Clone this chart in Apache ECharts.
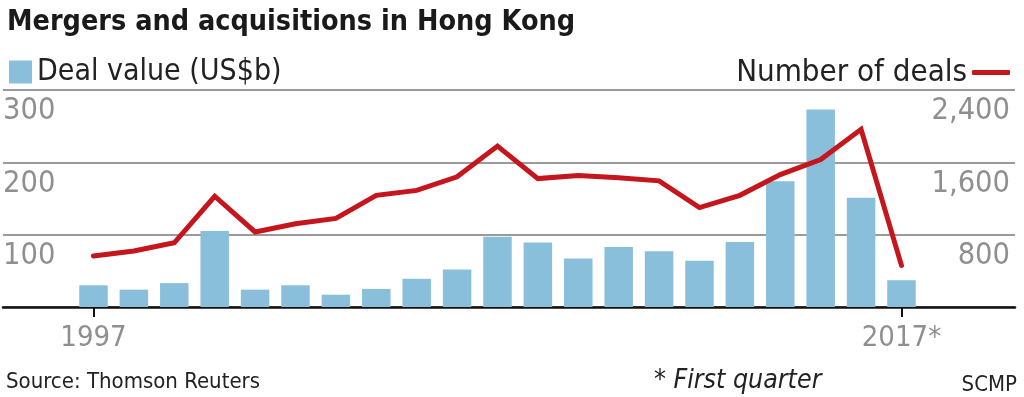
<!DOCTYPE html>
<html>
<head>
<meta charset="utf-8">
<script src="https://cdn.jsdelivr.net/npm/echarts@6/dist/echarts.min.js"></script>
<style>
  html, body { margin: 0; padding: 0; background: #fff; }
  #chart { width: 1024px; height: 397px; }
</style>
</head>
<body>
<div id="chart"></div>
<script>
// 数据
var years = [1997, 1998, 1999, 2000, 2001, 2002, 2003, 2004, 2005, 2006, 2007,
             2008, 2009, 2010, 2011, 2012, 2013, 2014, 2015, 2016, 2017];
var dealValue = [30, 24, 33, 105, 24, 30, 17, 25, 39, 52, 97,
                 89, 67, 83, 77, 64, 90, 174, 273, 151, 37];
var dealCount = [565, 620, 710, 1225, 830, 920, 980, 1235, 1290, 1440, 1780,
                 1420, 1455, 1430, 1395, 1100, 1235, 1465, 1630, 1965, 460];
var yearLabels = [1997, 2017];

var FONT = '"DejaVu Sans Condensed", "DejaVu Sans", sans-serif';
var GREY = '#8f8f8f';

var option = {
    animation: false,
    backgroundColor: '#fff',
    title: [
        {
            text: 'Mergers and acquisitions in Hong Kong',
            left: 2, top: 3,
            textStyle: { fontFamily: FONT, fontWeight: 'bold', fontSize: 28.5, color: '#1a1a1a' }
        },
        {
            text: 'Source: Thomson Reuters',
            left: 1, top: 366,
            textStyle: { fontFamily: FONT, fontWeight: 'normal', fontSize: 22, color: '#222' }
        },
        {
            text: '* First quarter',
            left: 649, top: 363,
            textStyle: { fontFamily: FONT, fontWeight: 'normal', fontStyle: 'italic', fontSize: 26.5, color: '#222' }
        },
        {
            text: 'SCMP',
            right: 2, top: 369,
            textStyle: { fontFamily: FONT, fontWeight: 'normal', fontSize: 22, color: '#222' }
        }
    ],
    legend: [
        {
            data: [{ name: 'Deal value (US$b)', icon: 'rect' }],
            left: 4, top: 52,
            itemWidth: 23, itemHeight: 23, itemGap: 10,
            textStyle: { fontFamily: FONT, fontSize: 30, color: '#222' }
        },
        {
            data: [{ name: 'Number of deals', icon: 'roundRect' }],
            right: 9, top: 52,
            align: 'right',
            itemWidth: 38, itemHeight: 5,
            textStyle: { fontFamily: FONT, fontSize: 31, color: '#222' }
        }
    ],
    grid: {
        left: 0,
        right: 9,
        top: 90,
        bottom: 90,
        containLabel: false
    },
    xAxis: {
        type: 'value',
        min: 1994.76,
        max: 2019.81,
        splitLine: { show: false },
        axisLine: { show: true, lineStyle: { color: '#111', width: 2.5 } },
        axisTick: {
            show: true, customValues: yearLabels, length: 10,
            lineStyle: { color: '#111', width: 2 }
        },
        axisLabel: {
            customValues: yearLabels,
            margin: 17,
            fontFamily: FONT, fontSize: 29, color: GREY,
            formatter: function (v) { return v === 2017 ? '2017*' : String(v); }
        }
    },
    yAxis: [
        {
            type: 'value',
            min: 0, max: 300, interval: 100,
            position: 'left',
            axisLine: { show: false },
            axisTick: { show: false },
            splitLine: { show: true, lineStyle: { color: '#9a9a9a', width: 2 } },
            axisLabel: {
                inside: true, margin: 0, showMinLabel: false,
                align: 'left', verticalAlign: 'top', padding: [6, 0, 0, 0],
                fontFamily: FONT, fontSize: 30.5, color: GREY
            }
        },
        {
            type: 'value',
            min: 0, max: 2400, interval: 800,
            position: 'right',
            axisLine: { show: false },
            axisTick: { show: false },
            splitLine: { show: false },
            axisLabel: {
                inside: true, margin: 5, showMinLabel: false,
                align: 'right', verticalAlign: 'top', padding: [6, 0, 0, 0],
                fontFamily: FONT, fontSize: 30.5, color: GREY,
                formatter: function (v) { return v.toLocaleString('en-US'); }
            }
        }
    ],
    series: [
        {
            name: 'Deal value (US$b)',
            type: 'bar',
            barWidth: 28.5,
            itemStyle: { color: '#89bfdb' },
            data: years.map(function (y, i) { return [y, dealValue[i]]; })
        },
        {
            name: 'Number of deals',
            type: 'line',
            yAxisIndex: 1,
            showSymbol: false,
            symbol: 'none',
            z: 5,
            lineStyle: { color: '#c4161c', width: 5, cap: 'round', join: 'miter' },
            itemStyle: { color: '#c4161c' },
            data: years.map(function (y, i) { return [y, dealCount[i]]; })
        }
    ]
};

var chart = echarts.init(document.getElementById('chart'));
chart.setOption(option);
</script>
</body>
</html>
